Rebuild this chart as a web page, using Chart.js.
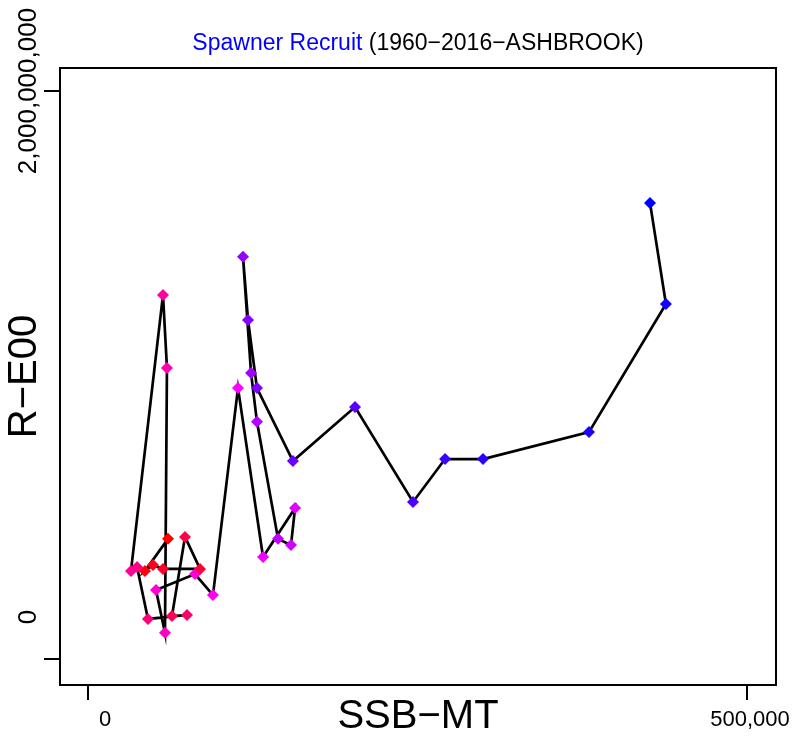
<!DOCTYPE html>
<html>
<head>
<meta charset="utf-8">
<script src="https://cdn.jsdelivr.net/npm/chart.js@4/dist/chart.umd.min.js"></script>
<style>
  html, body { margin: 0; padding: 0; background: #fff; }
  canvas { display: block; }
</style>
</head>
<body>
<canvas id="chart" width="798" height="736"></canvas>
<script>
// spawning stock biomass (MT), in year order, earliest first
const ssb = [
  426400, 438500, 380100, 299700, 270900, 246600, 202600, 155500,
  128200, 121400, 117600, 123700, 128200, 144200, 154000, 157100,
  132800, 113800, 94800, 81200, 51600, 58400, 59900, 56900,
  32600, 37200, 45500, 75100, 63700, 73600, 85000, 56900,
  49300, 43200, 60700
];
// recruits (E00), same order
const recruits = [
  1.606e9, 1.250e9, 7.99e8, 7.04e8, 7.04e8, 5.53e8, 8.87e8, 6.97e8,
  9.54e8, 1.194e9, 1.416e9, 1.007e9, 8.35e8, 4.23e8, 4.01e8, 5.32e8,
  3.59e8, 9.54e8, 2.25e8, 2.99e8, 2.43e8, 9.2e7, 1.025e9, 1.282e9,
  3.10e8, 3.24e8, 1.41e8, 1.55e8, 1.51e8, 4.30e8, 3.17e8, 3.17e8,
  3.31e8, 3.10e8, 4.23e8
];
const xTicks = [0, 500000];
const yTicks = [0, 2000000000];

const FONT = '"Liberation Sans", Arial, Helvetica, sans-serif';

// blue -> magenta -> red along the years
function pointColor(i, n) {
  const hue = 240 + 120 * i / (n - 1);
  return 'hsl(' + (hue % 360) + ', 100%, 50%)';
}
const colors = ssb.map((v, i) => pointColor(i, ssb.length));

function fmt(v) {
  return v.toLocaleString('en-US');
}

const rAxes = {
  id: 'rAxes',
  afterDraw(chart) {
    const { ctx, chartArea: a, scales: { x, y } } = chart;
    ctx.save();
    ctx.strokeStyle = '#000';
    ctx.fillStyle = '#000';
    ctx.lineWidth = 2;
    ctx.strokeRect(a.left, a.top, a.right - a.left, a.bottom - a.top);

    ctx.textAlign = 'center';
    ctx.textBaseline = 'middle';
    ctx.font = '22px ' + FONT;
    xTicks.forEach((v, i) => {
      const px = x.getPixelForValue(v);
      ctx.beginPath();
      ctx.moveTo(px, a.bottom);
      ctx.lineTo(px, a.bottom + 15);
      ctx.stroke();
      ctx.fillText(fmt(v), px + (i === 0 ? 17 : 3), a.bottom + 35);
    });
    ctx.font = '26px ' + FONT;
    yTicks.forEach((v, i) => {
      const py = y.getPixelForValue(v);
      ctx.beginPath();
      ctx.moveTo(a.left, py);
      ctx.lineTo(a.left - 16, py);
      ctx.stroke();
      ctx.save();
      ctx.translate(a.left - 31, py - (i === 0 ? 42 : 0));
      ctx.rotate(-Math.PI / 2);
      ctx.fillText(fmt(v), 0, 0);
      ctx.restore();
    });

    // axis titles
    ctx.font = '40px ' + FONT;
    ctx.fillText('SSB\u2212MT', (a.left + a.right) / 2, a.bottom + 32);
    ctx.save();
    ctx.translate(25, (a.top + a.bottom) / 2);
    ctx.rotate(-Math.PI / 2);
    ctx.fillText('R\u2212E00', 0, 0);
    ctx.restore();

    // title: blue name, black period
    ctx.font = '23px ' + FONT;
    const t1 = 'Spawner Recruit';
    const t2 = ' (1960\u22122016\u2212ASHBROOK)';
    const w1 = ctx.measureText(t1).width;
    const w2 = ctx.measureText(t2).width;
    const x0 = (a.left + a.right) / 2 - (w1 + w2) / 2;
    ctx.textAlign = 'left';
    ctx.fillStyle = '#0000ff';
    ctx.fillText(t1, x0, 44);
    ctx.fillStyle = '#000';
    ctx.fillText(t2, x0 + w1, 44);
    ctx.restore();
  }
};

new Chart(document.getElementById('chart'), {
  type: 'scatter',
  data: {
    datasets: [{
      data: ssb.map((v, i) => ({ x: v, y: recruits[i] })),
      showLine: true,
      borderColor: '#000',
      borderWidth: 2.7,
      pointStyle: 'rectRot',
      pointRadius: 6,
      pointBorderWidth: 0,
      pointBackgroundColor: colors,
      pointBorderColor: colors
    }]
  },
  options: {
    responsive: false,
    animation: false,
    layout: { padding: { left: 60, right: 22, top: 68, bottom: 51 } },
    plugins: {
      legend: { display: false },
      tooltip: { enabled: false }
    },
    scales: {
      x: { type: 'linear', display: false, min: -21245, max: 521990 },
      y: { type: 'linear', display: false, min: -9.155e7, max: 2.081e9 }
    }
  },
  plugins: [rAxes]
});
</script>
</body>
</html>
